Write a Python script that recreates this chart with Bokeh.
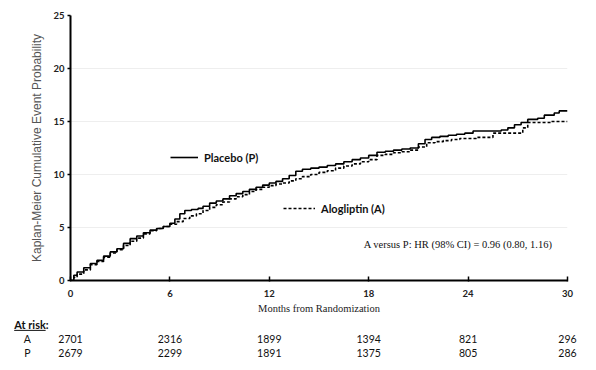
from bokeh.plotting import figure
from bokeh.layouts import column
from bokeh.models import Range1d, Legend, LegendItem, Label, ColumnDataSource, FixedTicker
from bokeh.core.properties import value
from bokeh.embed import file_html
from bokeh.resources import INLINE

# ---- data ----
placebo_t = [0, 0.2, 0.4, 0.8, 1.2, 1.6, 2.0, 2.4, 2.8, 3.2, 3.6, 4.0, 4.4, 4.8, 5.2, 5.6,
             6.0, 6.3, 6.6, 6.9, 7.3, 7.7, 8.0, 8.4, 8.8, 9.2, 9.6, 10.0, 10.4, 10.8, 11.2,
             11.6, 12.0, 12.4, 12.8, 13.2, 13.6, 14.0, 14.5, 15.0, 15.5, 16.0, 16.5, 17.0,
             17.5, 18.0, 18.5, 19.0, 19.5, 20.0, 20.5, 21.0, 21.4, 21.8, 22.3, 22.8, 23.3,
             23.8, 24.3, 25.0, 25.5, 26.0, 26.4, 26.8, 27.2, 27.6, 28.2, 28.6, 29.2, 29.5, 30.0]
placebo_v = [0, 0.5, 0.8, 1.2, 1.6, 1.9, 2.3, 2.7, 3.0, 3.5, 3.95, 4.2, 4.5, 4.75, 4.9, 5.1,
             5.4, 5.8, 6.3, 6.6, 6.7, 6.8, 7.0, 7.3, 7.5, 7.7, 8.0, 8.2, 8.4, 8.6, 8.8,
             9.0, 9.2, 9.35, 9.6, 9.9, 10.3, 10.5, 10.6, 10.7, 10.85, 11.0, 11.2, 11.4,
             11.55, 11.8, 12.1, 12.2, 12.3, 12.4, 12.5, 12.9, 13.3, 13.5, 13.6, 13.7, 13.8,
             13.9, 14.1, 14.1, 14.1, 14.2, 14.4, 14.7, 14.9, 15.2, 15.3, 15.6, 15.8, 16.0, 16.0]

alo_t = [0, 0.2, 0.4, 0.8, 1.2, 1.6, 2.0, 2.4, 2.8, 3.2, 3.6, 4.0, 4.4, 4.8, 5.2, 5.6,
         6.0, 6.4, 6.8, 7.2, 7.6, 8.0, 8.4, 8.8, 9.2, 9.6, 10.0, 10.4, 10.8, 11.2, 11.6,
         12.0, 12.4, 12.8, 13.2, 13.6, 14.0, 14.5, 15.0, 15.5, 16.0, 16.5, 17.0, 17.5,
         18.0, 18.5, 19.0, 19.5, 20.0, 20.5, 21.0, 21.5, 22.0, 22.5, 23.0, 23.5, 24.0,
         24.5, 25.0, 25.5, 26.0, 27.0, 27.3, 27.6, 28.5, 29.0, 30.0]
alo_v = [0, 0.3, 0.6, 1.0, 1.5, 1.8, 2.2, 2.6, 2.9, 3.3, 3.7, 4.0, 4.4, 4.7, 4.9, 5.1,
         5.3, 5.55, 5.85, 6.1, 6.3, 6.6, 6.9, 7.15, 7.4, 7.7, 7.9, 8.1, 8.4, 8.6, 8.8,
         8.95, 9.1, 9.2, 9.4, 9.6, 9.8, 10.0, 10.2, 10.35, 10.6, 10.8, 11.0, 11.2,
         11.4, 11.8, 11.9, 12.05, 12.15, 12.3, 12.6, 13.0, 13.1, 13.2, 13.3, 13.4, 13.4,
         13.5, 13.5, 13.9, 13.9, 13.9, 14.4, 14.9, 14.9, 15.0, 15.0]

x_ticks = [0, 6, 12, 18, 24, 30]
y_ticks = [0, 5, 10, 15, 20, 25]
risk_groups = ["A", "P"]
risk_a = [2701, 2316, 1899, 1394, 821, 296]
risk_p = [2679, 2299, 1891, 1375, 805, 286]
hr_text = "A versus P: HR (98% CI) = 0.96 (0.80, 1.16)"

X_MIN, X_MAX = 0, 30
Y_MIN, Y_MAX = 0, 25

# ---- layout constants (pixels) ----
W = 588
LEFT, RIGHT = 70, 21
TOP = 15
MAIN_H = 317
FRAME_BOTTOM = 280
TABLE_H = 48
ROW_PX = 14
HEAD_OFF = 7
FONT = "Lato"

p = figure(width=W, height=MAIN_H, output_backend="svg", toolbar_location=None,
           x_range=Range1d(X_MIN, X_MAX), y_range=Range1d(Y_MIN, Y_MAX),
           min_border_left=LEFT, min_border_right=RIGHT, min_border_top=TOP,
           min_border_bottom=MAIN_H - FRAME_BOTTOM)
p.outline_line_color = None
p.frame_align = False

r_p = p.step(placebo_t, placebo_v, mode="after", line_color="black", line_width=1.6)
r_a = p.step(alo_t, alo_v, mode="after", line_color="black", line_width=1.6, line_dash="3 2")

for ax in (p.xaxis[0], p.yaxis[0]):
    ax.axis_line_width = 2
    ax.axis_line_color = "black"
    ax.major_tick_line_color = "black"
    ax.major_tick_line_width = 1.5
    ax.minor_tick_line_color = None
    ax.major_label_text_font = FONT
    ax.major_label_text_font_style = "bold"
    ax.major_label_text_font_size = "9.5px"
    ax.major_label_text_color = "#222222"

p.xaxis.ticker = FixedTicker(ticks=x_ticks)
p.yaxis.ticker = FixedTicker(ticks=y_ticks)
p.xaxis.major_tick_in = 4
p.xaxis.major_tick_out = 1
p.xaxis.major_label_standoff = 8
p.yaxis.major_tick_in = 0
p.yaxis.major_tick_out = 3
p.yaxis.major_label_standoff = 3

p.xaxis.axis_label = "Months from Randomization"
p.xaxis.axis_label_text_font = "Liberation Serif"
p.xaxis.axis_label_text_font_style = "normal"
p.xaxis.axis_label_text_font_size = "10.5px"
p.xaxis.axis_label_text_color = "#222222"
p.xaxis.axis_label_standoff = 3

p.yaxis.axis_label = "Kaplan-Meier Cumulative Event Probability"
p.yaxis.axis_label_text_font = "Liberation Sans"
p.yaxis.axis_label_text_font_style = "normal"
p.yaxis.axis_label_text_font_size = "12px"
p.yaxis.axis_label_text_color = "#555555"
p.yaxis.axis_label_standoff = 6

p.xgrid.visible = False
p.ygrid.grid_line_color = "#eeeeee"
p.ygrid.grid_line_width = 1


def make_legend(label, renderer, loc, gw):
    return Legend(items=[LegendItem(label=label, renderers=[renderer])], location=loc,
                  glyph_width=gw, glyph_height=14, label_standoff=6, padding=0, margin=0,
                  spacing=0, background_fill_alpha=0, border_line_alpha=0,
                  label_text_font=FONT, label_text_font_style="bold",
                  label_text_font_size="11px", label_text_color="#111111",
                  label_height=14)


p.add_layout(make_legend("Placebo (P)", r_p, (100, 116), 28))
p.add_layout(make_legend("Alogliptin (A)", r_a, (213, 65), 32))

p.add_layout(Label(x=17.7, y=3.4, text=hr_text, text_font="Liberation Serif",
                   text_font_size="10.5px", text_baseline="middle", text_align="left",
                   text_color="#111111"))

# ---- at-risk table: second figure on the same month scale, full-width frame ----
px_per_unit = (W - LEFT - RIGHT) / (X_MAX - X_MIN)
t_xr = Range1d(X_MIN - LEFT / px_per_unit, X_MIN + (W - LEFT) / px_per_unit)
# rows: 0 = header, 1 = A, 2 = P
t_yr = Range1d(start=(TABLE_H - HEAD_OFF) / ROW_PX, end=-HEAD_OFF / ROW_PX)
t = figure(width=W, height=TABLE_H, output_backend="svg", toolbar_location=None,
           x_range=t_xr, y_range=t_yr, min_border=0, min_border_left=0,
           min_border_right=0, min_border_top=0, min_border_bottom=0)
t.frame_align = False
t.axis.visible = False
t.grid.visible = False
t.outline_line_color = None

t.text(x=[X_MIN - 3.4], y=[0], text=["At risk:"], text_font=value(FONT),
       text_font_style="bold", text_font_size="11px", text_baseline="middle",
       text_align="left", text_color="#111111")
t.segment(x0=[X_MIN - 3.4], y0=[0.42], x1=[X_MIN - 1.5], y1=[0.42],
          line_color="#111111", line_width=1)

t.text(x=[X_MIN - 2.6] * 2, y=[1, 2], text=risk_groups, text_font=value(FONT),
       text_font_size="10.5px", text_baseline="middle", text_align="center",
       text_color="#111111")

risk_src = ColumnDataSource(dict(
    x=x_ticks + x_ticks,
    y=[1] * len(x_ticks) + [2] * len(x_ticks),
    t=[str(v) for v in risk_a] + [str(v) for v in risk_p]))
t.text(x="x", y="y", text="t", source=risk_src, text_font=value(FONT),
       text_font_size="10.5px", text_baseline="middle", text_align="center",
       text_color="#111111")

layout = column(p, t, spacing=0)
open("out.html", "w").write(file_html(layout, INLINE))
